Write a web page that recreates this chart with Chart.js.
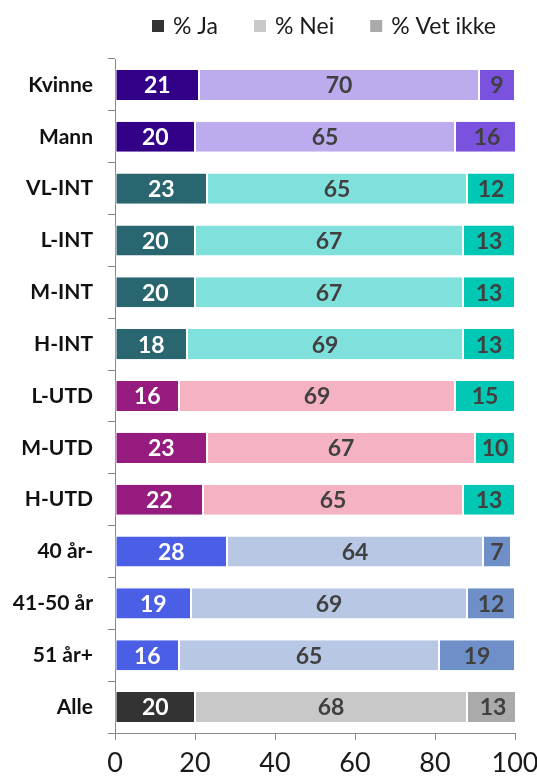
<!DOCTYPE html>
<html>
<head>
<meta charset="utf-8">
<script src="https://cdn.jsdelivr.net/npm/chart.js@4"></script>
<style>
html,body{margin:0;padding:0;background:#fff;}
#wrap{width:537px;height:776px;position:relative;}
</style>
</head>
<body>
<div id="wrap"><canvas id="c" width="537" height="776"></canvas></div>
<script>
const categories = ['Kvinne','Mann','VL-INT','L-INT','M-INT','H-INT','L-UTD','M-UTD','H-UTD','40 år-','41-50 år','51 år+','Alle'];
const seriesNames = ['% Ja','% Nei','% Vet ikke'];
const ja  = [21,20,23,20,20,18,16,23,22,28,19,16,20];
const nei = [70,65,65,67,67,69,69,67,65,64,69,65,68];
const vet = [9,16,12,13,13,13,15,10,13,7,12,19,13];
const xTicks = [0,20,40,60,80,100];

const jaColors  = ['#330088','#330088','#2a6670','#2a6670','#2a6670','#2a6670','#951b7e','#951b7e','#951b7e','#4a5ee6','#4a5ee6','#4a5ee6','#333333'];
const neiColors = ['#bcacee','#bcacee','#80e0dc','#80e0dc','#80e0dc','#80e0dc','#f5b2c2','#f5b2c2','#f5b2c2','#b8c7e4','#b8c7e4','#b8c7e4','#c8c8c8'];
const vetColors = ['#7b52dd','#7b52dd','#00c8b4','#00c8b4','#00c8b4','#00c8b4','#00c8b4','#00c8b4','#00c8b4','#6e8fc8','#6e8fc8','#6e8fc8','#aaaaaa'];
const legendColors = ['#333333','#c8c8c8','#aaaaaa'];
const labelColors = ['#ffffff','#404040','#404040'];

const FONT = 'Lato, "Open Sans", sans-serif';

const labelPlugin = {
  id: 'segLabels',
  afterDatasetsDraw(chart) {
    const ctx = chart.ctx;
    ctx.save();
    ctx.font = 'bold 23px ' + FONT;
    ctx.textAlign = 'center';
    ctx.textBaseline = 'middle';
    chart.data.datasets.forEach((ds, di) => {
      const meta = chart.getDatasetMeta(di);
      meta.data.forEach((el, i) => {
        const v = ds.data[i];
        const cx = (el.x + el.base) / 2;
        ctx.fillStyle = labelColors[di];
        ctx.fillText(String(v), cx, el.y + 1);
      });
    });
    ctx.restore();
  }
};

const legendPlugin = {
  id: 'topLegend',
  afterDraw(chart) {
    const ctx = chart.ctx;
    ctx.save();
    ctx.font = '23px ' + FONT;
    ctx.textBaseline = 'middle';
    ctx.textAlign = 'left';
    let x = 152;
    const cy = 26;
    chart.data.datasets.forEach((ds, i) => {
      ctx.fillStyle = legendColors[i];
      ctx.fillRect(x, cy - 6, 12, 12);
      x += 12 + 9;
      ctx.fillStyle = '#1a1a1a';
      ctx.fillText(ds.label, x, cy + 1);
      x += ctx.measureText(ds.label).width + 36;
    });
    ctx.restore();
  }
};

const common = {borderColor:'#ffffff', borderWidth:{left:1,right:1,top:0,bottom:0}, borderSkipped:false, barPercentage:0.58, categoryPercentage:1};

new Chart(document.getElementById('c'), {
  type: 'bar',
  data: {
    labels: categories,
    datasets: [
      Object.assign({label: seriesNames[0], data: ja,  backgroundColor: jaColors}, common),
      Object.assign({label: seriesNames[1], data: nei, backgroundColor: neiColors}, common),
      Object.assign({label: seriesNames[2], data: vet, backgroundColor: vetColors}, common)
    ]
  },
  options: {
    indexAxis: 'y',
    responsive: false,
    animation: false,
    layout: {padding: {top: 59, right: 22, bottom: 0, left: 0}},
    plugins: {
      tooltip: {enabled: false},
      legend: {display: false}
    },
    scales: {
      x: {
        stacked: true,
        min: 0, max: 100,
        afterBuildTicks(scale) { scale.ticks = xTicks.map(v => ({value: v})); },
        afterFit(scale) { scale.height = 43; scale.paddingLeft = 0; scale.paddingRight = 0; },
        grid: {drawOnChartArea: false, tickLength: 7, color: '#888', tickColor: '#888'},
        border: {color: '#888', width: 1},
        ticks: {font: {family: FONT, size: 27}, color: '#1a1a1a', padding: 7, maxRotation: 0}
      },
      y: {
        stacked: true,
        afterFit(scale) { scale.width = 115; scale.paddingTop = 0; scale.paddingBottom = 0; },
        grid: {drawOnChartArea: false, offset: true, tickLength: 7, color: '#888', tickColor: '#888'},
        border: {color: '#888', width: 1},
        ticks: {font: {family: FONT, size: 21, weight: 'bold'}, color: '#111', padding: 15}
      }
    }
  },
  plugins: [labelPlugin, legendPlugin]
});
</script>
</body>
</html>
